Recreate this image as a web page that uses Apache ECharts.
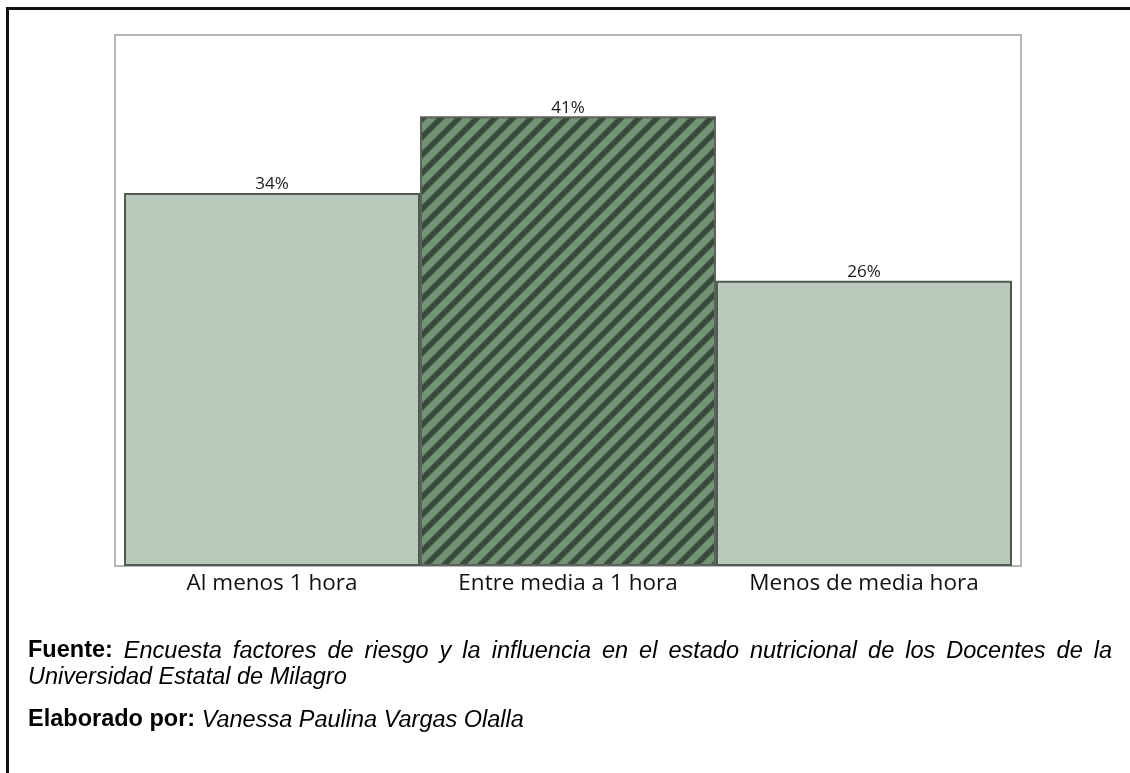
<!DOCTYPE html>
<html>
<head>
<meta charset="utf-8">
<script src="https://cdn.jsdelivr.net/npm/echarts@6/dist/echarts.min.js"></script>
<style>
  html, body { margin: 0; padding: 0; background: #ffffff; }
  #chart { width: 1130px; height: 773px; }
</style>
</head>
<body>
<div id="chart"></div>
<script>
// Tiempo dedicado (porcentaje de docentes)
const categories = ['Al menos 1 hora', 'Entre media a 1 hora', 'Menos de media hora'];
const percentages = [34, 41, 26];
const stripedIndex = 1;

const sourceLabel = 'Fuente:';
const sourceLine1 = 'Encuesta factores de riesgo y la influencia en el estado nutricional de los Docentes de la';
const sourceLine2 = 'Universidad Estatal de Milagro';
const authorLabel = 'Elaborado por:';
const authorName = 'Vanessa Paulina Vargas Olalla';

// Soft diagonal stripe tile ("/" direction)
function stripeTile() {
  const P = 18;
  const c = document.createElement('canvas');
  c.width = P; c.height = P;
  const ctx = c.getContext('2d');
  const img = ctx.createImageData(P, P);
  const light = [114, 147, 116];
  const dark = [55, 71, 58];
  for (let y = 0; y < P; y++) {
    for (let x = 0; x < P; x++) {
      const t = ((x + y) % P) / P;
      const v = 0.5 + 0.5 * Math.cos(2 * Math.PI * t);
      const s = Math.min(1, Math.max(0, (v - 0.6) * 2.2 + 0.5));
      const i = (y * P + x) * 4;
      for (let k = 0; k < 3; k++) img.data[i + k] = Math.round(light[k] * (1 - s) + dark[k] * s);
      img.data[i + 3] = 255;
    }
  }
  ctx.putImageData(img, 0, 0);
  return c;
}
const stripes = stripeTile();

const chart = echarts.init(document.getElementById('chart'), null, { renderer: 'canvas' });

// Justified first footer line
const FOOT_SIZE = 23.5;
const FOOT_FAMILY = '"Liberation Sans", Arial, sans-serif';
const measureCtx = document.createElement('canvas').getContext('2d');
function footFont(bold, italic) {
  return (italic ? 'italic ' : '') + (bold ? 'bold ' : '') + FOOT_SIZE + 'px ' + FOOT_FAMILY;
}
function textWidth(str, bold, italic) {
  measureCtx.font = footFont(bold, italic);
  return measureCtx.measureText(str).width;
}
function footText(str, x, y, bold, italic) {
  return {
    type: 'text', x: x, y: y, silent: true,
    style: {
      text: str, fill: '#000000', font: footFont(bold, italic),
      textVerticalAlign: 'middle', textAlign: 'left'
    }
  };
}
const lineLeft = 28, lineRight = 1112;
const words = [{ w: sourceLabel, b: true, i: false }].concat(
  sourceLine1.split(' ').map(w => ({ w: w, b: false, i: true }))
);
let total = 0;
words.forEach(o => { o.width = textWidth(o.w, o.b, o.i); total += o.width; });
const gap = (lineRight - lineLeft - total) / (words.length - 1);
const footer = [];
let cx = lineLeft;
words.forEach(o => { footer.push(footText(o.w, cx, 651, o.b, o.i)); cx += o.width + gap; });
footer.push(footText(sourceLine2, lineLeft, 677, false, true));
footer.push(footText(authorLabel, lineLeft, 720, true, false));
footer.push(footText(authorName, lineLeft + textWidth(authorLabel + ' ', true, false), 720, false, true));

const option = {
  backgroundColor: '#ffffff',
  animation: false,
  grid: { left: 124, right: 118, top: 35, bottom: 207, containLabel: false },
  xAxis: {
    type: 'category',
    data: categories,
    axisLine: { show: false },
    axisTick: { show: false },
    axisLabel: {
      color: '#111111', fontSize: 22.5, fontFamily: '"Open Sans", "Noto Sans", sans-serif',
      margin: 6, interval: 0
    }
  },
  yAxis: { type: 'value', min: 0, max: 48.4, show: false, splitLine: { show: false } },
  series: [{
    type: 'bar',
    barCategoryGap: '0%',
    data: percentages.map((v, i) => ({
      value: v,
      itemStyle: i === stripedIndex
        ? { color: { image: stripes, repeat: 'repeat' }, borderColor: '#5d625e', borderWidth: 2 }
        : { color: '#b9cabd', borderColor: '#4e5b51', borderWidth: 2 }
    })),
    label: {
      show: true, position: 'top', distance: 0,
      formatter: p => p.value + '%',
      color: '#1a1a1a', fontSize: 17, fontFamily: '"Open Sans", "Noto Sans", sans-serif'
    },
    z: 3
  }],
  graphic: [
    // plot frame
    { type: 'rect', z: 1, silent: true,
      shape: { x: 115, y: 35, width: 906, height: 531 },
      style: { fill: 'none', stroke: '#b7b7b7', lineWidth: 2 } },
    // page border (left and top)
    { type: 'polyline', z: 1, silent: true,
      shape: { points: [[7.5, 773], [7.5, 8.5], [1130, 8.5]] },
      style: { fill: 'none', stroke: '#111111', lineWidth: 3 } }
  ].concat(footer)
};
chart.setOption(option);
</script>
</body>
</html>
